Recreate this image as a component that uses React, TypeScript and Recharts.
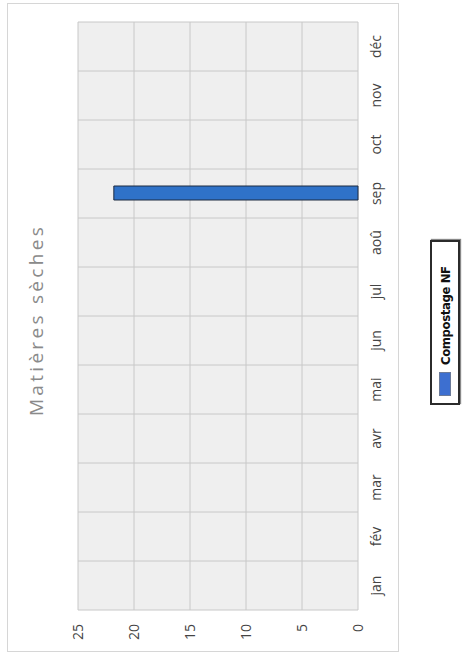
import { BarChart, Bar, XAxis, YAxis, CartesianGrid, Legend } from 'recharts';

// scanned Excel chart, turned a quarter turn counter-clockwise
const months = ['jan', 'fév', 'mar', 'avr', 'mai', 'jun', 'jul', 'aoû', 'sep', 'oct', 'nov', 'déc'];
const compostageNF = [null, null, null, null, null, null, null, null, 21.8, null, null, null];
const valueTicks = [0, 5, 10, 15, 20, 25];

const data = months.map((month, i) => ({ month, compostage: compostageNF[i] }));

// unrotated chart size (it is drawn sideways)
const W = 659;
const H = 463;

const FONT = "'Open Sans', 'Noto Sans', sans-serif";

function LegendBox() {
  return (
    <div
      style={{
        boxSizing: 'border-box',
        width: 165,
        height: 30,
        border: '2px solid #2b2b2b',
        boxShadow: '1px 1px 1px #888',
        background: '#fff',
        display: 'flex',
        alignItems: 'center',
        paddingLeft: 7,
        fontFamily: "'Liberation Sans Narrow', 'DejaVu Sans Condensed', sans-serif",
        fontWeight: 'bold',
        fontSize: 13,
        letterSpacing: -0.4,
        color: '#111',
      }}
    >
      <span
        style={{
          display: 'inline-block',
          width: 22,
          height: 10,
          background: '#3d6fd0',
          border: '1px solid #6b7a99',
          marginRight: 7,
        }}
      />
      Compostage NF
    </div>
  );
}

export default function App() {
  return (
    <div style={{ position: 'fixed', left: 0, top: 0, width: 463, height: 659, overflow: 'hidden', background: '#fff' }}>
      <div
        style={{
          position: 'absolute',
          left: 0,
          top: 0,
          width: W,
          height: H,
          transformOrigin: '0 0',
          transform: `translate(0px, ${W}px) rotate(-90deg)`,
        }}
      >
        {/* chart frame */}
        <div
          style={{
            position: 'absolute',
            left: 7,
            top: 7,
            width: 649,
            height: 392,
            boxSizing: 'border-box',
            border: '1px solid #d6d6d6',
          }}
        />
        <div
          style={{
            position: 'absolute',
            left: 0,
            width: 678,
            top: 23,
            textAlign: 'center',
            fontFamily: FONT,
            fontSize: 19,
            letterSpacing: 3.3,
            color: '#8a8a8a',
          }}
        >
          Matières sèches
        </div>
        <BarChart
          width={W}
          height={H}
          data={data}
          margin={{ top: 78, right: 22, left: 9, bottom: 33 }}
          style={{ position: 'absolute', left: 0, top: 0 }}
        >
          <CartesianGrid
            fill="#efefef"
            stroke="#c8c8c8"
            verticalCoordinatesGenerator={({ offset }: any) =>
              months.map((_, i) => offset.left + (i * offset.width) / months.length).concat(offset.left + offset.width)
            }
          />
          <XAxis
            dataKey="month"
            height={72}
            axisLine={false}
            tickLine={false}
            tickSize={0}
            tickMargin={13}
            interval={0}
            tick={{ fill: '#444', fontSize: 14, fontFamily: FONT }}
          />
          <YAxis
            width={40}
            domain={[0, 25]}
            ticks={valueTicks}
            axisLine={false}
            tickLine={false}
            tickSize={0}
            tickMargin={14}
            tick={{ fill: '#444', fontSize: 14, fontFamily: FONT }}
          />
          {/* vertical + middle keeps the legend out of the plot offset; placed by wrapperStyle */}
          <Legend
            layout="vertical"
            align="center"
            verticalAlign="middle"
            wrapperStyle={{ left: 254, top: 430, width: 165 }}
            content={<LegendBox />}
          />
          <Bar
            dataKey="compostage"
            name="Compostage NF"
            fill="#2f72c8"
            stroke="#1c2a40"
            strokeWidth={1}
            barSize={14}
            isAnimationActive={false}
          />
        </BarChart>
      </div>
    </div>
  );
}
